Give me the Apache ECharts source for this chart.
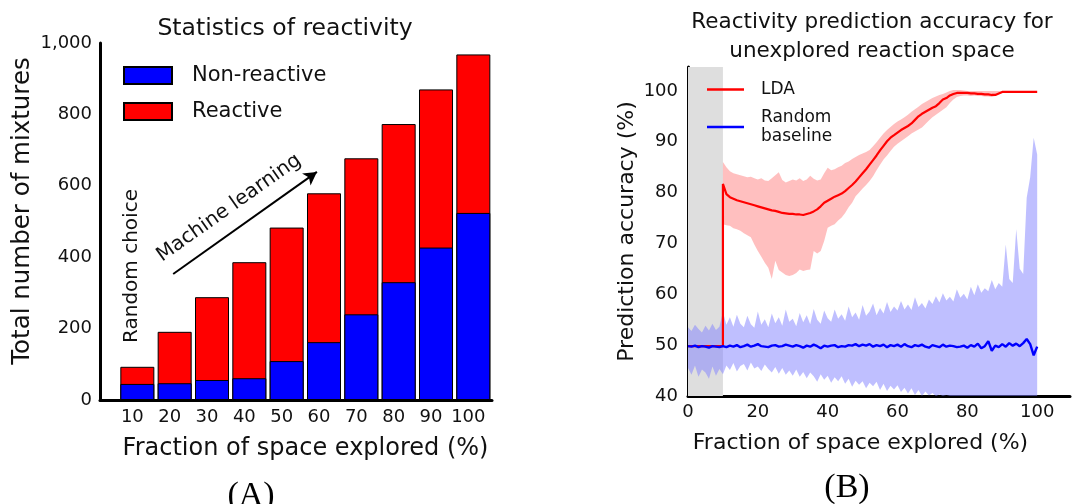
<!DOCTYPE html>
<html><head><meta charset="utf-8">
<script src="https://cdn.jsdelivr.net/npm/echarts@6/dist/echarts.min.js"></script>
<style>html,body{margin:0;padding:0;background:#fff}#c{width:1073px;height:504px}</style>
</head><body><div id="c"></div>
<script>
// ---------- Panel A data ----------
const barCategories = [10, 20, 30, 40, 50, 60, 70, 80, 90, 100];
const nonReactive = [45, 47, 56, 61, 109, 162, 240, 330, 427, 524];
const reactive = [48, 144, 232, 325, 374, 417, 437, 443, 443, 444];
const arrowStart = [19.6, 353];
const arrowEnd = [58.1, 639];

// ---------- Panel B data ----------
const exploreEnd = 10;
const blueX = [0,1,2,3,4,5,6,7,8,9,10,11,12,13,14,15,16,17,18,19,20,21,22,23,24,25,26,27,28,29,30,31,32,33,34,35,36,37,38,39,40,41,42,43,44,45,46,47,48,49,50,51,52,53,54,55,56,57,58,59,60,61,62,63,64,65,66,67,68,69,70,71,72,73,74,75,76,77,78,79,80,81,82,83,84,85,86,87,88,89,90,91,92,93,94,95,96,97,98,99,100];
const blueMean = [49.8,49.7,49.9,49.6,49.8,49.7,49.5,49.8,49.7,49.6,
 49.8,49.6,49.9,49.7,50.0,49.6,49.8,50.1,49.7,49.9,
 50.2,49.8,49.7,49.6,49.9,50.0,49.7,49.8,50.1,49.9,
 49.7,50.0,49.8,49.5,49.9,49.7,50.1,49.8,49.4,49.9,
 49.7,49.9,50.0,49.6,49.8,49.7,50.0,49.9,50.2,49.8,
 50.1,49.9,50.2,49.7,50.0,49.8,50.1,49.6,50.0,49.8,
 50.1,49.7,50.2,49.8,49.6,50.0,49.8,50.1,49.7,49.5,
 50.0,49.8,49.6,50.1,49.7,49.9,49.8,49.6,49.7,49.9,
 49.5,50.0,49.7,50.3,49.4,49.8,50.8,48.9,49.9,49.6,
 50.2,49.7,50.4,49.9,50.3,49.8,50.4,51.2,50.2,48.0,49.7];
const blueUpper = [53.5,52.8,54.0,53.2,52.5,53.8,52.9,54.2,53.0,53.6,
 56.5,54.0,55.5,53.6,56.0,54.2,53.5,55.8,54.1,53.4,
 56.6,54.0,55.1,53.5,56.2,54.3,55.5,53.8,57.0,54.6,
 55.2,53.7,56.3,54.5,55.9,54.1,57.1,55.0,54.2,56.8,
 55.3,54.6,57.0,55.2,56.1,54.8,57.6,55.5,56.4,55.0,
 57.9,55.8,56.6,58.2,55.9,57.3,56.2,58.5,56.5,57.6,
 56.8,58.7,57.0,58.0,56.9,59.4,57.5,58.3,57.2,59.0,
 58.1,59.6,58.4,60.2,58.8,59.5,58.6,61.0,59.3,60.1,
 59.0,61.5,59.8,62.0,60.3,61.2,60.6,62.8,61.0,62.2,
 61.5,69.8,63.0,62.2,72.8,65.0,64.0,79.0,83.0,90.8,87.5];
const blueLower = [45.5,44.2,46.0,43.8,45.2,44.6,43.4,45.8,44.0,45.3,
 44.3,46.0,45.1,46.5,44.8,45.9,46.3,45.0,46.6,45.4,
 45.8,44.9,46.2,45.3,44.6,45.7,44.4,45.5,44.2,45.0,
 44.0,45.2,43.8,44.7,43.5,44.6,43.9,42.8,44.3,43.2,
 44.0,42.6,43.7,42.9,43.9,42.4,43.4,41.8,43.0,42.2,
 42.9,41.5,42.6,41.9,42.8,41.2,42.4,41.0,42.0,41.3,
 42.1,40.8,41.6,40.5,41.5,40.2,41.2,40.0,40.9,40.1,
 40.6,40.0,40.3,40.0,40.2,40.0,40.0,40.0,40.0,40.0,
 40,40,40,40,40,40,40,40,40,40,
 40,40,40,40,40,40,40,40,40,40,40];

const ldaExploreX = [0, 10];
const ldaExploreY = [49.8, 49.8];
const ldaX = [10,11,12,13,14,15,16,17,18,19,20,21,22,23,24,25,26,27,28,29,30,31,32,33,34,35,36,37,38,39,40,41,42,43,44,45,46,47,48,49,50,51,52,53,54,55,56,57,58,59,60,61,62,63,64,65,66,67,68,69,70,71,72,73,74,75,76,77,78,79,80,81,82,83,84,85,86,87,88,89,90,91,92,93,94,95,96,97,98,99,100];
const ldaMean = [81.7,79.7,79.1,78.8,78.5,78.3,78.1,77.9,77.7,77.5,
 77.3,77.1,76.9,76.7,76.5,76.4,76.2,76.0,75.9,75.8,
 75.8,75.7,75.7,75.6,75.8,76.0,76.3,76.7,77.3,78.0,
 78.4,78.8,79.2,79.5,79.8,80.3,80.9,81.5,82.2,83.0,
 83.8,84.6,85.5,86.4,87.3,88.3,89.2,90.1,90.8,91.3,
 91.8,92.3,92.7,93.1,93.6,94.3,95.0,95.5,95.9,96.3,
 96.7,97.0,97.6,98.3,98.6,99.1,99.4,99.6,99.6,99.6,
 99.6,99.5,99.5,99.4,99.4,99.3,99.3,99.2,99.2,99.5,
 99.8,99.8,99.8,99.8,99.8,99.8,99.8,99.8,99.8,99.8,99.8];
const ldaUpper = [86.0,85.0,84.2,83.8,83.6,83.4,83.2,83.0,83.1,82.8,
 82.6,82.8,82.4,82.3,82.8,83.4,84.0,82.5,82.0,82.3,
 82.6,82.4,82.8,82.3,82.6,83.3,82.7,82.4,82.6,83.8,
 84.9,84.4,84.6,85.0,85.3,85.8,86.1,86.6,87.0,87.4,
 87.7,88.0,88.4,89.1,89.9,90.8,91.6,92.3,92.9,93.5,
 94.0,94.4,94.8,95.3,95.9,96.4,96.9,97.4,97.8,98.2,
 98.6,98.9,99.2,99.4,99.7,100.0,100.2,100.2,100.2,100.1,
 100.0,100.0,100.0,100.0,100.0,100.0,100.0,100.0,100.0,100.0,
 99.9,99.9,99.9,99.9,99.9,99.9,99.9,99.9,99.9,99.9,99.9];
const ldaLower = [73.8,73.6,73.5,73.0,72.8,72.5,72.0,71.6,71.2,69.8,
 68.5,67.4,66.2,65.2,63.0,66.6,64.8,64.3,63.8,63.6,
 63.8,64.2,64.9,64.6,64.8,64.9,68.5,68.0,68.5,70.5,
 73.1,73.5,73.8,74.5,75.1,76.0,77.1,78.0,79.3,80.0,
 80.8,81.5,82.3,83.2,84.4,85.5,86.5,87.3,88.2,89.0,
 89.6,90.1,90.6,91.1,91.6,92.0,92.4,92.8,93.5,94.2,
 94.8,95.3,95.8,96.3,96.8,97.6,98.3,98.8,99.0,99.1,
 99.1,99.0,99.1,99.0,99.0,98.9,98.9,98.8,99.0,99.4,
 99.7,99.7,99.7,99.7,99.7,99.7,99.7,99.7,99.7,99.7,99.7];

// ---------- build ----------
const FONT = 'DejaVu Sans';
const TXT = '#111';
const totals = barCategories.map((c, i) => nonReactive[i] + reactive[i]);

function bandSeries(xs, lo, hi, color, z) {
  return {
    type: 'custom', xAxisIndex: 1, yAxisIndex: 1, silent: true, clip: true, z: z,
    data: xs.map((x, i) => [x, lo[i], hi[i]]),
    encode: { x: 0, y: [1, 2] },
    renderItem: function (params, api) {
      if (params.dataIndex !== 0) return null;
      const pts = [];
      for (let i = 0; i < xs.length; i++) pts.push(api.coord([xs[i], hi[i]]));
      for (let i = xs.length - 1; i >= 0; i--) pts.push(api.coord([xs[i], lo[i]]));
      return { type: 'polygon', shape: { points: pts }, style: { fill: color } };
    }
  };
}

const chart = echarts.init(document.getElementById('c'), null, { renderer: 'canvas' });
const option = {
  animation: false,
  backgroundColor: '#fff',
  textStyle: { fontFamily: FONT, color: TXT },
  title: [
    { text: 'Statistics of reactivity', left: 285, top: 17, textAlign: 'center', padding: 0,
      textStyle: { fontFamily: FONT, fontSize: 23.5, fontWeight: 'normal', color: TXT } },
    { text: 'Reactivity prediction accuracy for\nunexplored reaction space', left: 872, top: 8, textAlign: 'center', padding: 0,
      textStyle: { fontFamily: FONT, fontSize: 21.5, fontWeight: 'normal', color: TXT, lineHeight: 29 } }
  ],
  legend: [
    { data: ['Non-reactive', 'Reactive'], orient: 'vertical', left: 123, top: 65, itemWidth: 48, itemHeight: 17,
      itemGap: 15, icon: 'rect', padding: 0,
      textStyle: { fontFamily: FONT, fontSize: 21, color: TXT, padding: [0, 0, 0, 15] } },
    { data: ['LDA', 'Random baseline'], orient: 'vertical', left: 707, top: 80, itemWidth: 37, itemHeight: 2.5,
      itemGap: 9, padding: 0, icon: 'rect',
      formatter: n => n === 'Random baseline' ? 'Random\nbaseline' : n,
      textStyle: { fontFamily: FONT, fontSize: 17, color: TXT, lineHeight: 19, padding: [0, 0, 0, 12] } }
  ],
  grid: [
    { left: 100, top: 43, width: 392, height: 357 },
    { left: 688, top: 67, right: 0, height: 329 }
  ],
  xAxis: [
    { type: 'value', gridIndex: 0, min: 0, max: 105, interval: 10,
      splitLine: { show: false }, axisTick: { show: false },
      axisLine: { lineStyle: { color: '#000', width: 3 } },
      axisLabel: { fontFamily: FONT, fontSize: 18, color: TXT, margin: 8, padding: [0, 10, 0, 0],
        formatter: v => (barCategories.indexOf(v) >= 0 ? String(v) : '') },
      name: 'Fraction of space explored (%)', nameLocation: 'middle', nameGap: 37,
      nameTextStyle: { fontFamily: FONT, fontSize: 24, color: TXT, padding: [0, 0, 0, 19] } },
    { type: 'value', gridIndex: 1, min: 0, max: 109.4, interval: 20,
      splitLine: { show: false }, axisTick: { show: false },
      axisLine: { lineStyle: { color: '#000', width: 3 } },
      axisLabel: { fontFamily: FONT, fontSize: 18, color: TXT, margin: 7,
        formatter: v => (v % 20 === 0 && v <= 100 ? String(v) : '') },
      name: 'Fraction of space explored (%)', nameLocation: 'middle', nameGap: 36,
      nameTextStyle: { fontFamily: FONT, fontSize: 22, color: TXT, padding: [0, 37, 0, 0] } }
  ],
  yAxis: [
    { type: 'value', gridIndex: 0, min: 0, max: 1000, interval: 200,
      splitLine: { show: false }, axisTick: { show: false },
      axisLine: { show: true, lineStyle: { color: '#000', width: 3 } },
      axisLabel: { fontFamily: FONT, fontSize: 18, color: TXT, margin: 8,
        formatter: v => v.toLocaleString('en-US') } },
    { type: 'value', gridIndex: 1, min: 40, max: 104.7, interval: 10,
      splitLine: { show: false }, axisTick: { show: false },
      axisLine: { show: true, lineStyle: { color: '#000', width: 3 } },
      axisLabel: { fontFamily: FONT, fontSize: 18, color: TXT, margin: 10,
        formatter: v => (v % 10 === 0 ? String(v) : '') },
      name: 'Prediction accuracy (%)', nameLocation: 'middle', nameGap: 50,
      nameTextStyle: { fontFamily: FONT, fontSize: 22, color: TXT } }
  ],
  series: [
    { name: 'Reactive', type: 'bar', xAxisIndex: 0, yAxisIndex: 0, barWidth: 34, barGap: '-100%', z: 2,
      itemStyle: { color: '#ff0000', borderColor: '#000', borderWidth: 1 },
      data: barCategories.map((c, i) => [c, totals[i]]),
      markLine: { silent: true, symbol: ['none', 'arrow'], symbolSize: [11, 13],
        lineStyle: { color: '#000', width: 2, type: 'solid' }, label: { show: false },
        data: [[{ coord: arrowStart }, { coord: arrowEnd }]] } },
    { name: 'Non-reactive', type: 'bar', xAxisIndex: 0, yAxisIndex: 0, barWidth: 34, barGap: '-100%', z: 3,
      itemStyle: { color: '#0000ff', borderColor: '#000', borderWidth: 1 },
      data: barCategories.map((c, i) => [c, nonReactive[i]]) },
    { name: 'explore', type: 'line', xAxisIndex: 1, yAxisIndex: 1, data: [[0, 40]], symbol: 'none',
      lineStyle: { opacity: 0 }, silent: true, z: 0,
      markArea: { silent: true, itemStyle: { color: '#dedede' },
        data: [[{ xAxis: 0 }, { xAxis: exploreEnd }]] } },
    bandSeries(blueX, blueLower, blueUpper, 'rgba(128,128,255,0.5)', 1),
    bandSeries(ldaX, ldaLower, ldaUpper, 'rgba(255,128,128,0.5)', 1),
    { name: 'LDA', type: 'line', xAxisIndex: 1, yAxisIndex: 1, symbol: 'none', z: 3,
      color: '#ff0000', lineStyle: { color: '#ff0000', width: 2.2 },
      data: ldaExploreX.map((x, i) => [x, ldaExploreY[i]]).concat(ldaX.map((x, i) => [x, ldaMean[i]])) },
    { name: 'Random baseline', type: 'line', xAxisIndex: 1, yAxisIndex: 1, symbol: 'none', z: 4,
      color: '#0000ff', lineStyle: { color: '#0000ff', width: 2.4 },
      data: blueX.map((x, i) => [x, blueMean[i]]) }
  ],
  graphic: [
    { type: 'text', x: 23, y: 211, rotation: Math.PI / 2,
      style: { text: 'Total number of mixtures', font: '24.5px "DejaVu Sans"', fill: TXT, align: 'center', verticalAlign: 'middle' } },
    { type: 'text', x: 132, y: 266, rotation: Math.PI / 2,
      style: { text: 'Random choice', font: '20px "DejaVu Sans"', fill: TXT, align: 'center', verticalAlign: 'middle' } },
    { type: 'text', x: 229, y: 208, rotation: 0.617,
      style: { text: 'Machine learning', font: '20px "DejaVu Sans"', fill: TXT, align: 'center', verticalAlign: 'middle' } },
    { type: 'text', x: 703, y: 240, rotation: Math.PI / 2,
      style: { text: 'Exploratory phase', font: '18px "DejaVu Sans"', fill: TXT, align: 'center', verticalAlign: 'middle' } },
    { type: 'text', x: 251, y: 479,
      style: { text: '(A)', font: '34px "Liberation Serif"', fill: '#000', align: 'center', verticalAlign: 'top' } },
    { type: 'text', x: 847, y: 471,
      style: { text: '(B)', font: '34px "Liberation Serif"', fill: '#000', align: 'center', verticalAlign: 'top' } }
  ]
};
chart.setOption(option);
</script>
</body></html>
